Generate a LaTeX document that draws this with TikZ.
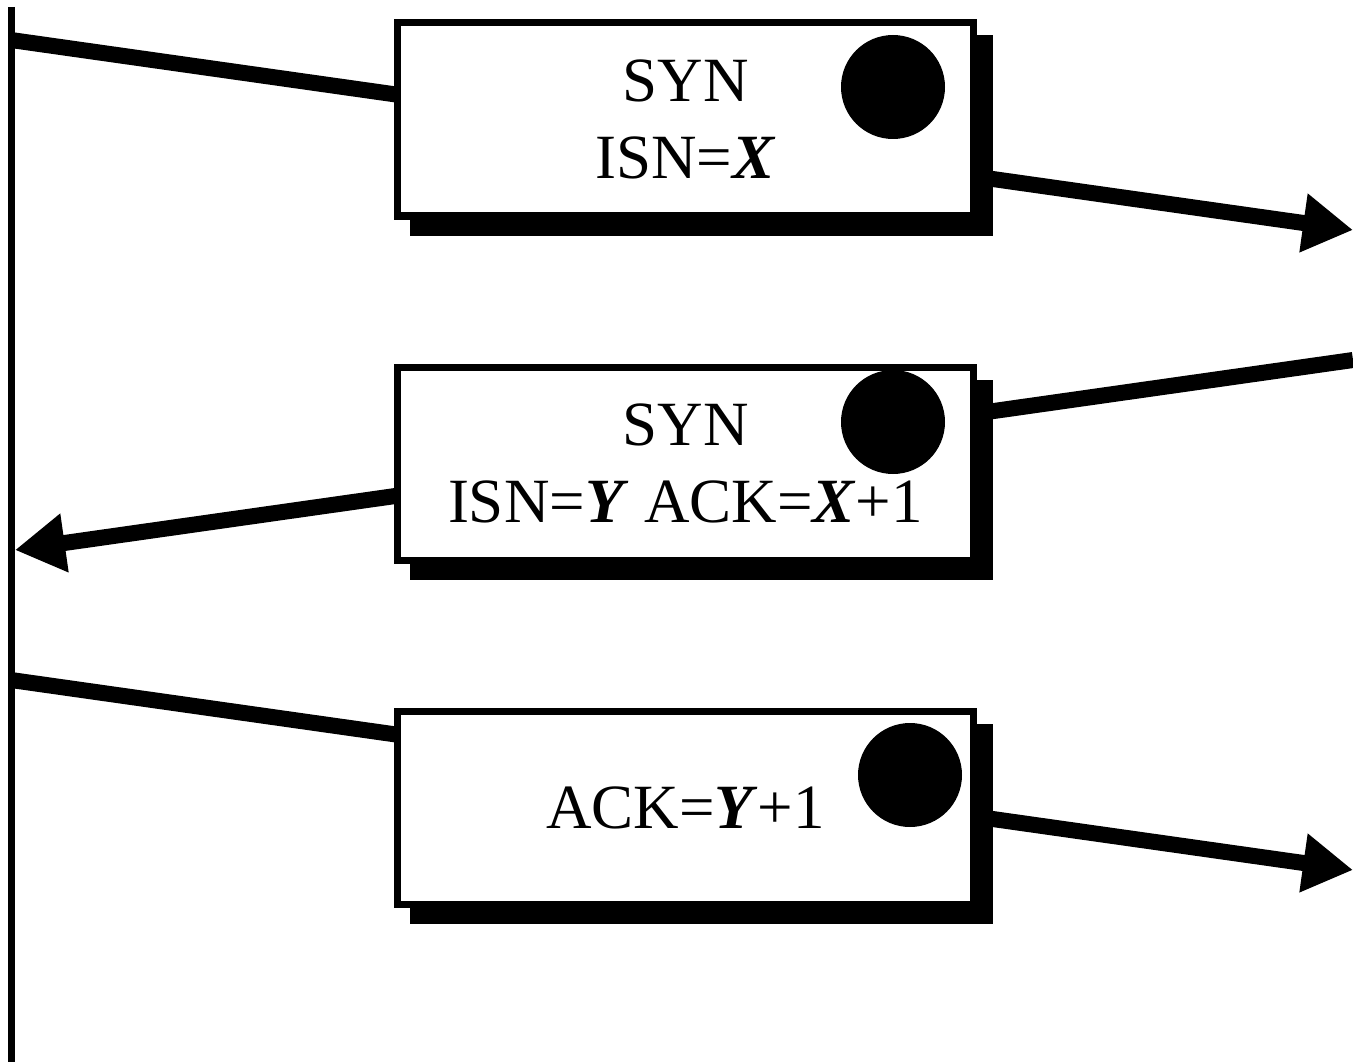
\documentclass[tikz,border=0pt]{standalone}
\usepackage{fontspec}
\setmainfont{Liberation Serif}
\usetikzlibrary{arrows.meta}
\usetikzlibrary{shadows}
\tikzset{>={Triangle[length=50pt,width=56pt]}}
\tikzset{segbox/.style={draw, line width=7pt, fill=white, minimum width=576pt, minimum height=193pt, align=center, font=\fontsize{63}{77}\selectfont, drop shadow={shadow xshift=16pt, shadow yshift=-16pt, opacity=1, fill=black, draw=black, line width=7pt}}}
\tikzset{flag/.style={circle, fill=black, minimum size=104pt, inner sep=0pt}}
\tikzset{msg/.style={line width=16pt}}
\newcommand{\seqno}[1]{\textbf{\textit{#1}}}

\begin{document}
\begin{tikzpicture}[x=1pt,y=-1pt]
    \useasboundingbox (0,0) rectangle (1353,1062);
    \coordinate (top) at (11,7);
    \coordinate (bot) at (11,1062);
    \coordinate (s1) at (11,40);
    \coordinate (r1) at (1353,230);
    \coordinate (r2) at (1353,360);
    \coordinate (s2) at (15,550);
    \coordinate (s3) at (11,680);
    \coordinate (r3) at (1353,870);
    \draw[line width=7pt] (top) -- (bot);
    \draw[msg,->] (s1) -- (r1);
    \draw[msg,->] (r2) -- (s2);
    \draw[msg,->] (s3) -- (r3);
    \node[segbox] (b1) at (685.5,119.5) {SYN\\ISN=\seqno{X}};
    \node[segbox] (b2) at (685.5,463.5) {SYN\\ISN=\seqno{Y} ACK=\seqno{X}+1};
    \node[segbox] (b3) at (685.5,807.5) {ACK=\seqno{Y}+1};
    \node[flag] (f1) at (893,87) {};
    \node[flag] (f2) at (893,422) {};
    \node[flag] (f3) at (910,775) {};
\end{tikzpicture}
\end{document}
